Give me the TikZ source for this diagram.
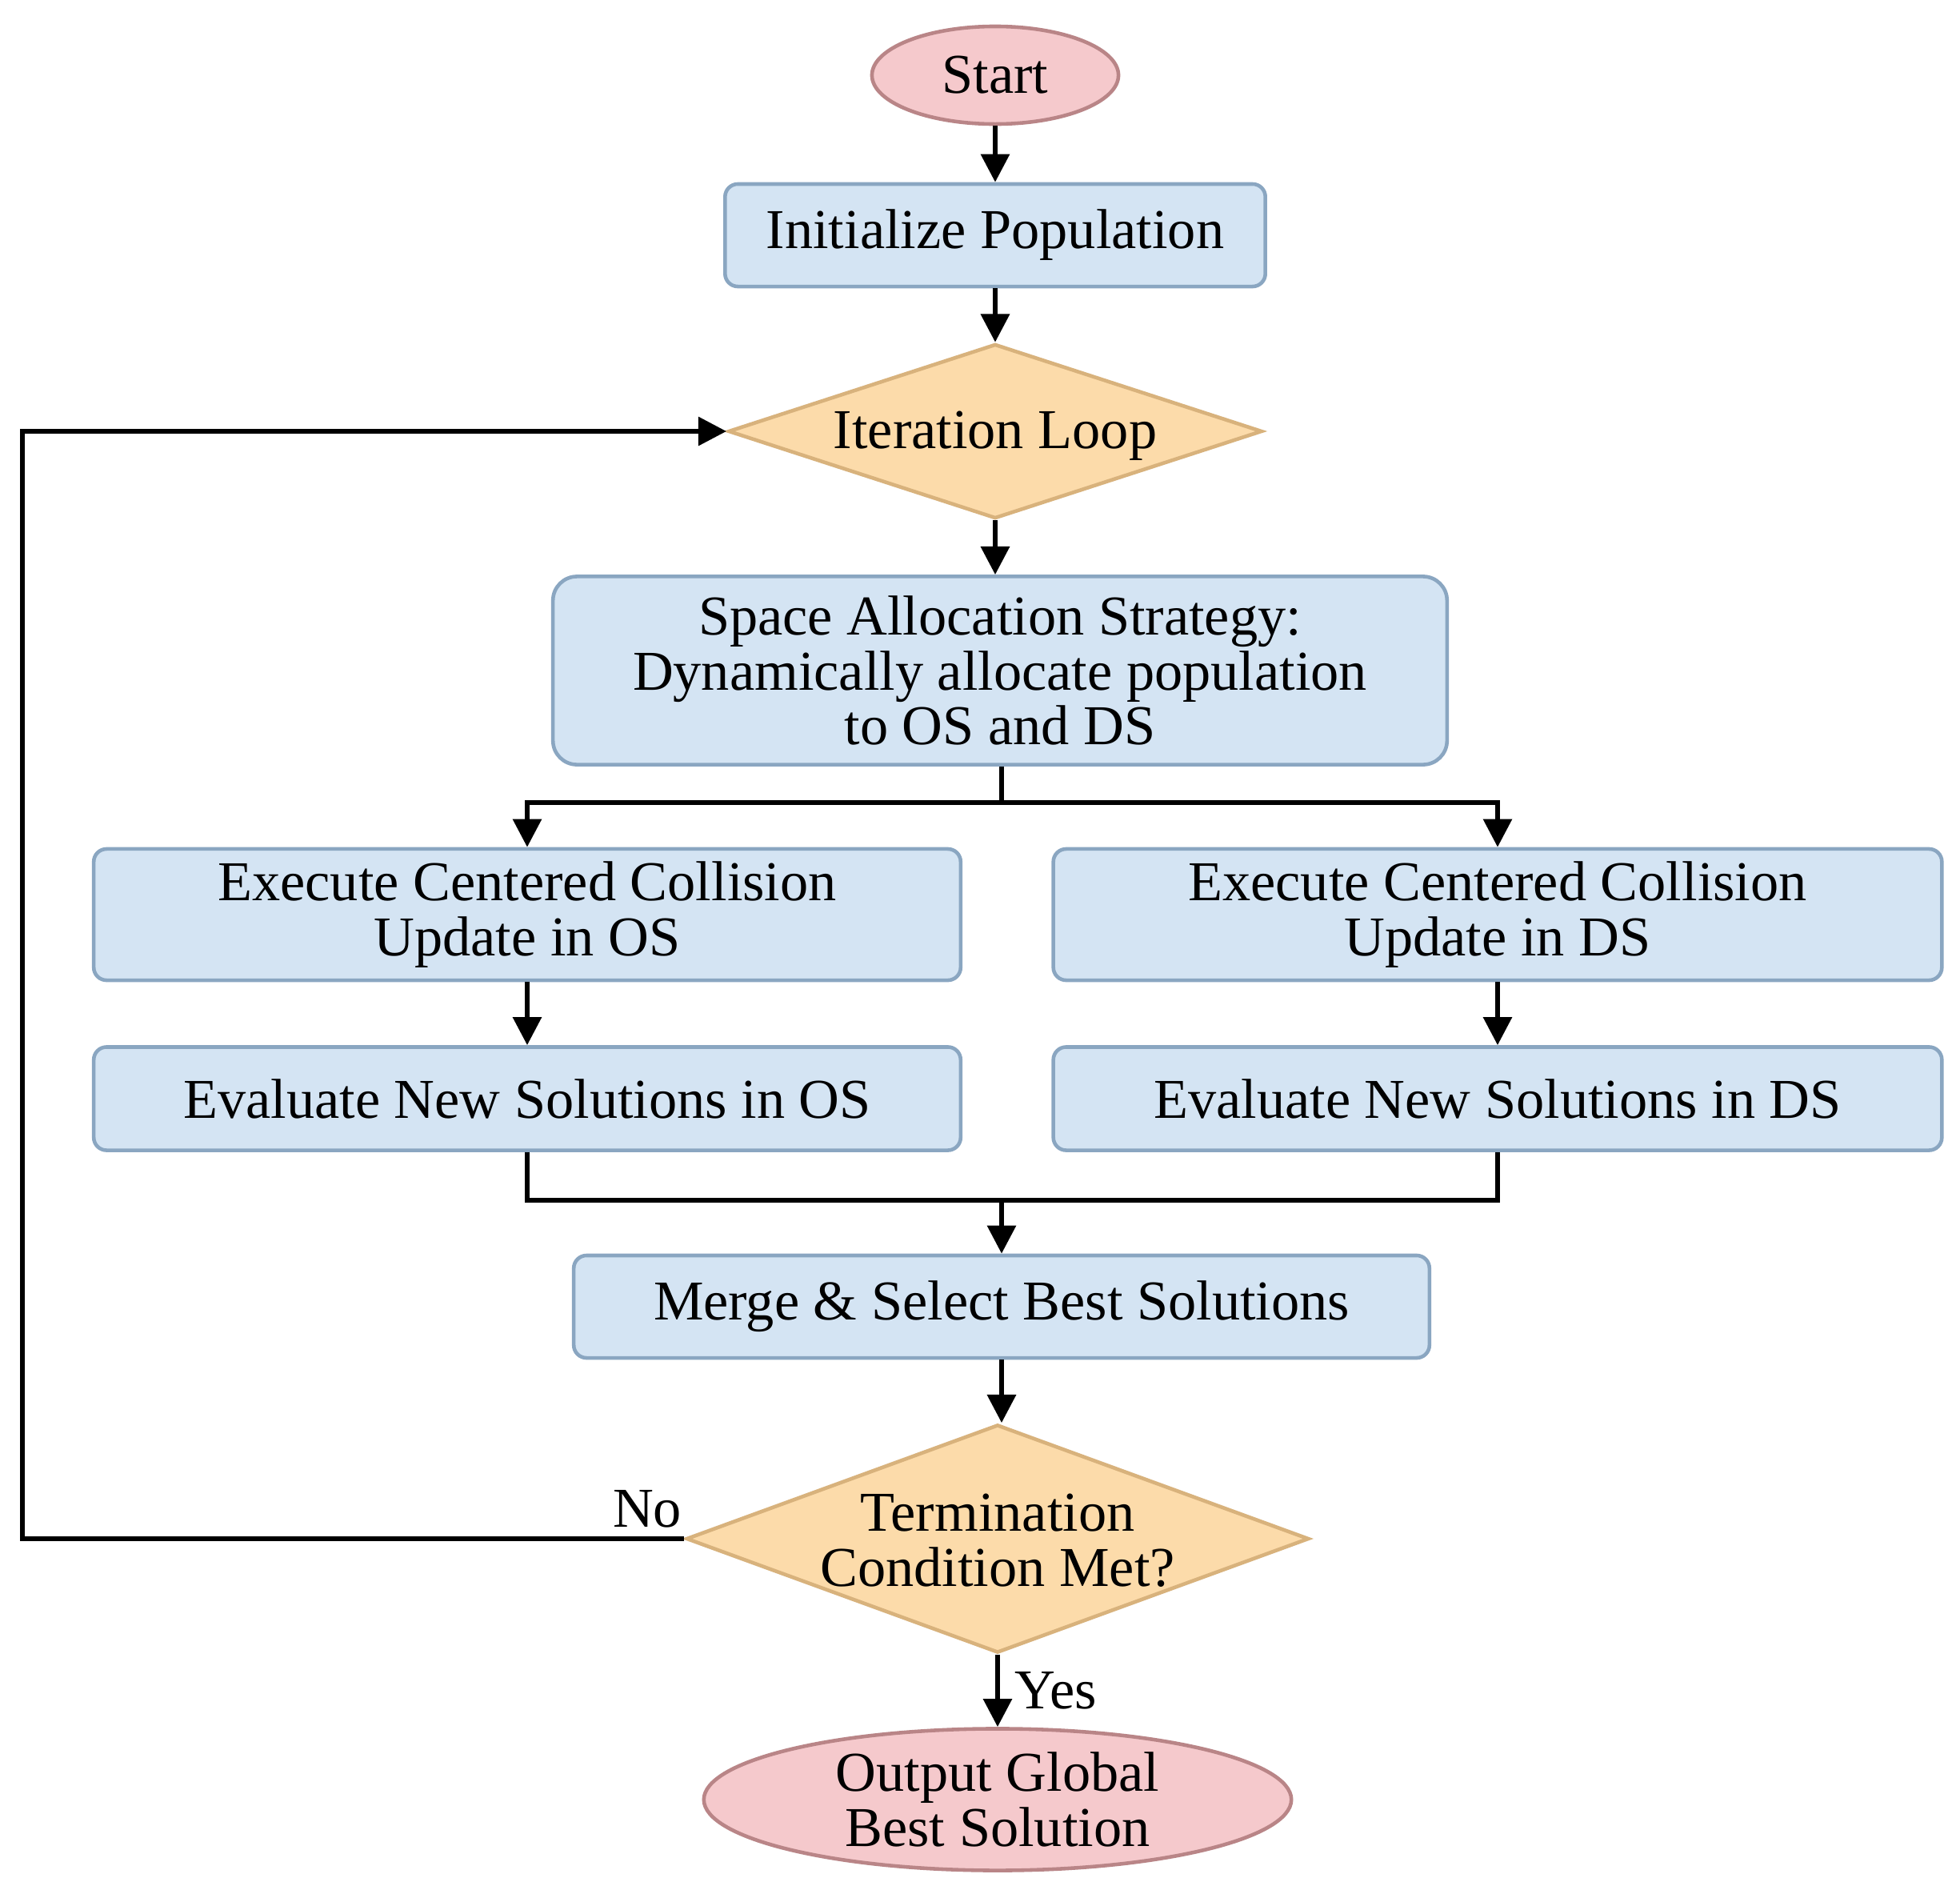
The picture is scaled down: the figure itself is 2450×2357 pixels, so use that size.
\documentclass[tikz,border=0pt]{standalone}
\usepackage{fontspec}
\setmainfont{Liberation Serif}
\usetikzlibrary{shapes.geometric,arrows.meta}
\definecolor{boxfill}{HTML}{D4E4F3}
\definecolor{boxdraw}{HTML}{8AA6C1}
\definecolor{termfill}{HTML}{F5C9CC}
\definecolor{termdraw}{HTML}{B98587}
\definecolor{decfill}{HTML}{FCDBAA}
\definecolor{decdraw}{HTML}{D8B27C}
\tikzset{
  txt/.style={font=\fontsize{20}{19.5}\selectfont, align=center, text=black},
  procbox/.style={txt, draw=boxdraw, fill=boxfill, line width=1.3pt, rounded corners=0.16cm, inner sep=0pt},
  termnode/.style={txt, ellipse, draw=termdraw, fill=termfill, line width=1.3pt, inner sep=0pt},
  decnode/.style={diamond, draw=decdraw, fill=decfill, line width=1.3pt, inner sep=0pt},
  conn/.style={line width=1.7pt, draw=black},
  arr/.style={conn, -{Triangle[length=10pt,width=10pt]}}
}
\begin{document}
\begin{tikzpicture}[x=0.01cm,y=-0.01cm]
\useasboundingbox (0,0) rectangle (2450,2357);
\fill[white] (0,0) rectangle (2450,2357);

\node[termnode, minimum width=3.08cm, minimum height=1.22cm] (start) at (1244,94) {Start};
\node[procbox, minimum width=6.75cm, minimum height=1.28cm] (init) at (1244,294) {Initialize Population};
\node[decnode, minimum width=6.67cm, minimum height=2.18cm] (iter) at (1244,539) {};
\node[txt] (itertext) at (1244,545) {Iteration Loop};
\node[procbox, rounded corners=0.3cm, minimum width=11.17cm, minimum height=2.35cm] (space) at (1250,838) {Space Allocation Strategy:\\Dynamically allocate population\\to OS and DS};
\node[procbox, minimum width=10.83cm, minimum height=1.64cm] (execos) at (659,1143) {Execute Centered Collision\\Update in OS};
\node[procbox, minimum width=11.1cm, minimum height=1.64cm] (execds) at (1872,1143) {Execute Centered Collision\\Update in DS};
\node[procbox, minimum width=10.83cm, minimum height=1.29cm] (evalos) at (659,1373) {Evaluate New Solutions in OS};
\node[procbox, minimum width=11.1cm, minimum height=1.29cm] (evalds) at (1872,1373) {Evaluate New Solutions in DS};
\node[procbox, minimum width=10.69cm, minimum height=1.28cm] (merge) at (1252,1633) {Merge \& Select Best Solutions};
\node[decnode, minimum width=7.78cm, minimum height=2.85cm] (term) at (1247,1923) {};
\node[txt] (termtext) at (1247,1925) {Termination\\Condition Met?};
\node[termnode, minimum width=7.34cm, minimum height=1.77cm] (out) at (1247,2249) {Output Global\\Best Solution};

\coordinate (split) at (1252,1003);
\coordinate (join) at (1252,1500);
\coordinate (loopbl) at (28,1923);

\draw[arr] (start) -- (init);
\draw[arr] (init) -- (iter);
\draw[arr] (iter.south) -- (iter.south |- space.north);
\draw[conn] (space.south -| split) -- (split);
\draw[arr] (split) -| (execos.north);
\draw[arr] (split) -| (execds.north);
\draw[arr] (execos) -- (evalos);
\draw[arr] (execds) -- (evalds);
\draw[conn] (evalos.south) |- (join) -| (evalds.south);
\draw[arr] (join) -- (merge.north -| join);
\draw[arr] (merge.south) -- (merge.south |- term.north);
\draw[arr] (term.south) -- (out.north) node[txt, midway, right=2pt] (yes) {Yes};
\draw[arr] (term.west) -- (loopbl) |- (iter.west);
\node[txt] (no) at (809,1886) {No};
\end{tikzpicture}
\end{document}
